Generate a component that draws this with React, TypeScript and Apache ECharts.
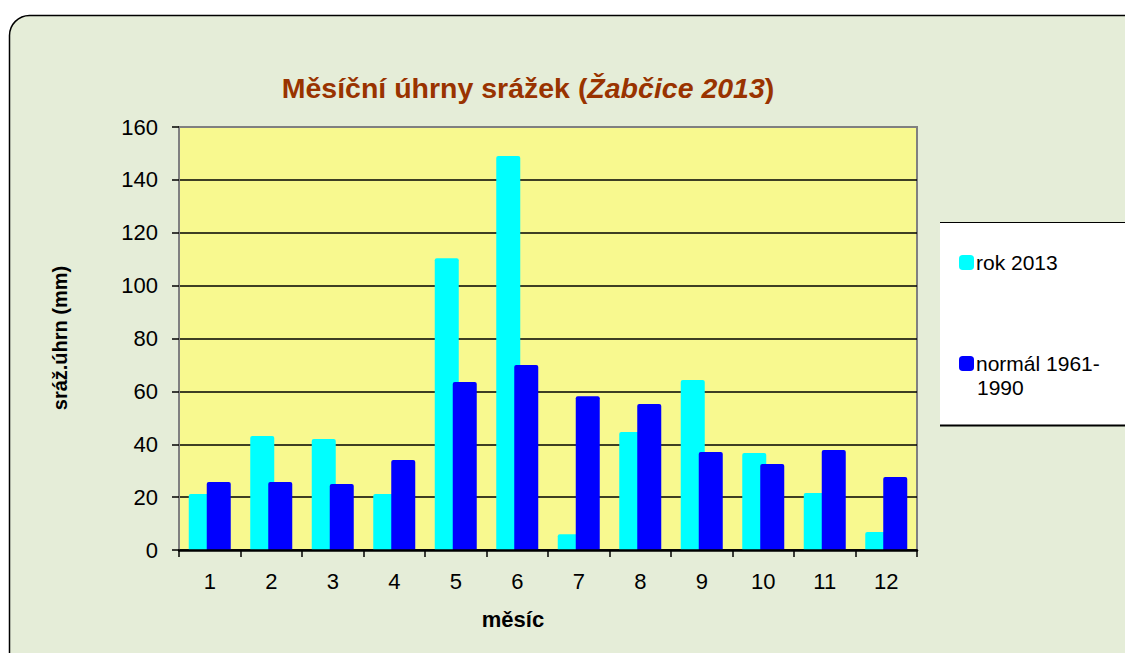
import React, { useEffect, useRef } from "react";
import * as echarts from "echarts";

const months = ["1", "2", "3", "4", "5", "6", "7", "8", "9", "10", "11", "12"];
const rok2013 = [21.2, 43.1, 42.0, 21.2, 110.4, 149.0, 6.0, 44.6, 64.3, 36.7, 21.6, 6.8];
const normal = [25.7, 25.7, 25.0, 34.0, 63.5, 70.0, 58.2, 55.2, 37.1, 32.5, 37.8, 27.6];
const seriesNames = ["rok 2013", "normál 1961-1990"];
const yMin = 0;
const yMax = 160;
const yStep = 20;

const FONT = "'Liberation Sans', Arial, sans-serif";

export default function App() {
  const ref = useRef<HTMLDivElement>(null);
  useEffect(() => {
    if (!ref.current) return;
    const chart = echarts.init(ref.current, null, { renderer: "svg" });
    chart.setOption({
      animation: false,
      backgroundColor: "#ffffff",
      textStyle: { fontFamily: FONT },
      graphic: [
        {
          type: "rect",
          z: -100,
          shape: { x: 9.5, y: 15.5, width: 1160, height: 700, r: 20 },
          style: { fill: "#E5EDD8", stroke: "#000000", lineWidth: 1.5 },
        },
        {
          type: "rect",
          z: -50,
          shape: { x: 940, y: 222, width: 200, height: 204 },
          style: { fill: "#ffffff" },
        },
        {
          type: "line",
          z: -40,
          shape: { x1: 940, y1: 222.5, x2: 1125, y2: 222.5 },
          style: { stroke: "#000000", lineWidth: 1.2 },
        },
        {
          type: "line",
          z: -40,
          shape: { x1: 940, y1: 425.5, x2: 1125, y2: 425.5 },
          style: { stroke: "#000000", lineWidth: 2 },
        },
        {
          type: "text",
          x: 528,
          y: 88,
          style: {
            text: "{a|Měsíční úhrny srážek (}{b|Žabčice 2013}{a|)}",
            align: "center",
            verticalAlign: "middle",
            rich: {
              a: { fontSize: 28.5, fontWeight: "bold", fill: "#993300", fontFamily: FONT },
              b: { fontSize: 28.5, fontWeight: "bold", fontStyle: "italic", fill: "#993300", fontFamily: FONT },
            },
          },
        },
        {
          type: "text",
          x: 60,
          y: 338,
          rotation: Math.PI / 2,
          style: {
            text: "sráž.úhrn (mm)",
            align: "center",
            verticalAlign: "middle",
            fontSize: 20,
            fontWeight: "bold",
            fill: "#000000",
            fontFamily: FONT,
          },
        },
        {
          type: "text",
          x: 513,
          y: 619,
          style: {
            text: "měsíc",
            align: "center",
            verticalAlign: "middle",
            fontSize: 22,
            fontWeight: "bold",
            fill: "#000000",
            fontFamily: FONT,
          },
        },
        {
          type: "text",
          x: 977,
          y: 387,
          style: {
            text: "1990",
            align: "left",
            verticalAlign: "middle",
            fontSize: 21,
            lineHeight: 21,
            fill: "#000000",
            fontFamily: FONT,
          },
        },
      ],
      legend: {
        orient: "vertical",
        left: 954,
        top: 247,
        itemGap: 80,
        itemWidth: 15,
        itemHeight: 15,
        icon: "roundRect",
        data: seriesNames,
        formatter: (name: string) => (name === seriesNames[1] ? "normál 1961-" : name),
        textStyle: { fontSize: 21, lineHeight: 21, color: "#000000", fontFamily: FONT, padding: [0, 0, 0, -3] },
      },
      grid: {
        left: 179,
        right: 208,
        top: 127,
        bottom: 103,
        show: true,
        backgroundColor: "#F8F98F",
        borderColor: "#808080",
        borderWidth: 2,
      },
      xAxis: {
        type: "category",
        data: months,
        z: 5,
        axisLine: { show: true, lineStyle: { color: "#000000", width: 2.5 } },
        axisTick: { show: true, alignWithLabel: false, length: 7, lineStyle: { color: "#000000", width: 1.5 } },
        axisLabel: { margin: 20, fontSize: 22, color: "#000000", fontFamily: FONT },
        splitLine: { show: false },
      },
      yAxis: {
        type: "value",
        min: yMin,
        max: yMax,
        interval: yStep,
        axisLine: { show: true, lineStyle: { color: "#808080", width: 2 } },
        axisTick: { show: true, length: 7, lineStyle: { color: "#000000", width: 1.5 } },
        axisLabel: { margin: 21, fontSize: 22, color: "#000000", fontFamily: FONT },
        splitLine: { show: true, showMaxLine: false, lineStyle: { color: "#000000", width: 1.5 } },
      },
      series: [
        {
          name: seriesNames[0],
          type: "bar",
          data: rok2013,
          barWidth: 24,
          barGap: "-25%",
          itemStyle: { color: "#00FFFF", borderRadius: [2, 2, 0, 0] },
        },
        {
          name: seriesNames[1],
          type: "bar",
          data: normal,
          barWidth: 24,
          itemStyle: { color: "#0000FF", borderRadius: [2, 2, 0, 0] },
        },
      ],
    });
    return () => chart.dispose();
  }, []);
  return (
    <div
      ref={ref}
      style={{ position: "absolute", left: 0, top: 0, width: 1125, height: 653 }}
    />
  );
}
